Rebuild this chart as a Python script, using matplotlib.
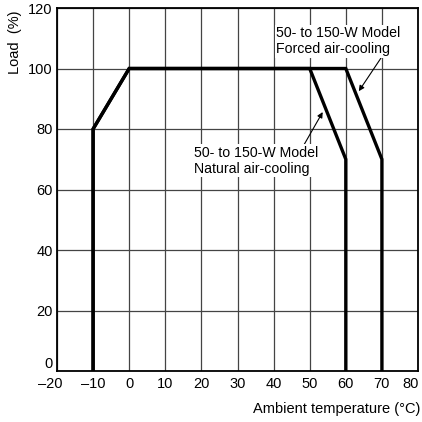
import matplotlib
matplotlib.use("Agg")
from matplotlib import pyplot as plt
from matplotlib.transforms import ScaledTranslation

plt.rcParams["font.family"] = ["Liberation Sans", "DejaVu Sans"]

# derating curves: ambient temperature (degC) vs load (%)
natural_temp = [-10, -10, 0, 50, 60, 60]
natural_load = [0, 80, 100, 100, 70, 0]
forced_temp = [-10, -10, 0, 60, 70, 70]
forced_load = [0, 80, 100, 100, 70, 0]

x_ticks = list(range(-20, 81, 10))
x_labels = [str(t).replace("-", "\u2013") for t in x_ticks]
y_ticks = list(range(0, 121, 20))

fig = plt.figure(figsize=(4.22, 4.22), dpi=100)
ax = fig.add_axes([57 / 422, 51 / 422, 361 / 422, 363 / 422])

ax.set_xlim(-20, 80)
ax.set_ylim(0, 120)
ax.set_xticks(x_ticks)
# the two end labels are nudged inwards, as in the original drawing
ax.set_xticklabels([""] + x_labels[1:-1] + [""])
ax.set_yticks(y_ticks)
ax.tick_params(length=0, labelsize=10.5, pad=3)
ax.tick_params(axis="x", pad=4)
ax.get_yticklabels()[0].set_verticalalignment("bottom")
ax.grid(True, color="#444444", linewidth=0.9)
ax.set_axisbelow(True)
for s in ax.spines.values():
    s.set_linewidth(1.3)
    s.set_color("black")

for xv, lab, dx in [(x_ticks[0], x_labels[0], -7), (x_ticks[-1], x_labels[-1], -7)]:
    tr = ax.get_xaxis_transform() + ScaledTranslation(dx / 100, -4.6 / 72, fig.dpi_scale_trans)
    ax.text(xv, 0, lab, transform=tr, fontsize=10.5, ha="center", va="top",
            clip_on=False)

ax.plot(natural_temp, natural_load, color="black", linewidth=2.4,
        solid_joinstyle="miter", zorder=3)
ax.plot(forced_temp, forced_load, color="black", linewidth=2.4,
        solid_joinstyle="miter", zorder=3)

ax.annotate("50- to 150-W Model\nForced air-cooling", xy=(63.6, 92.5),
            xytext=(40.8, 114.0), fontsize=10.2, ha="left", va="top",
            linespacing=1.2,
            arrowprops=dict(arrowstyle="-|>", color="black", lw=0.8,
                            mutation_scale=8, shrinkA=0, shrinkB=0,
                            relpos=(0.85, 0.0)),
            bbox=dict(facecolor="white", edgecolor="none", pad=1),
            zorder=4)
ax.annotate("50- to 150-W Model\nNatural air-cooling", xy=(53.6, 85.6),
            xytext=(18, 74.5), fontsize=10.2, ha="left", va="top",
            linespacing=1.2,
            arrowprops=dict(arrowstyle="-|>", color="black", lw=0.8,
                            mutation_scale=8, shrinkA=0, shrinkB=0,
                            relpos=(0.88, 1.0)),
            bbox=dict(facecolor="white", edgecolor="none", pad=1),
            zorder=4)

fig.text(15 / 422, 1 - 42 / 422, "Load  (%)", rotation=90, fontsize=10.5,
         ha="center", va="center")
fig.text(420 / 422, 1 - 409 / 422, "Ambient temperature (\u00b0C)", fontsize=10.5,
         ha="right", va="center")

fig.savefig("out.png", dpi=100)
